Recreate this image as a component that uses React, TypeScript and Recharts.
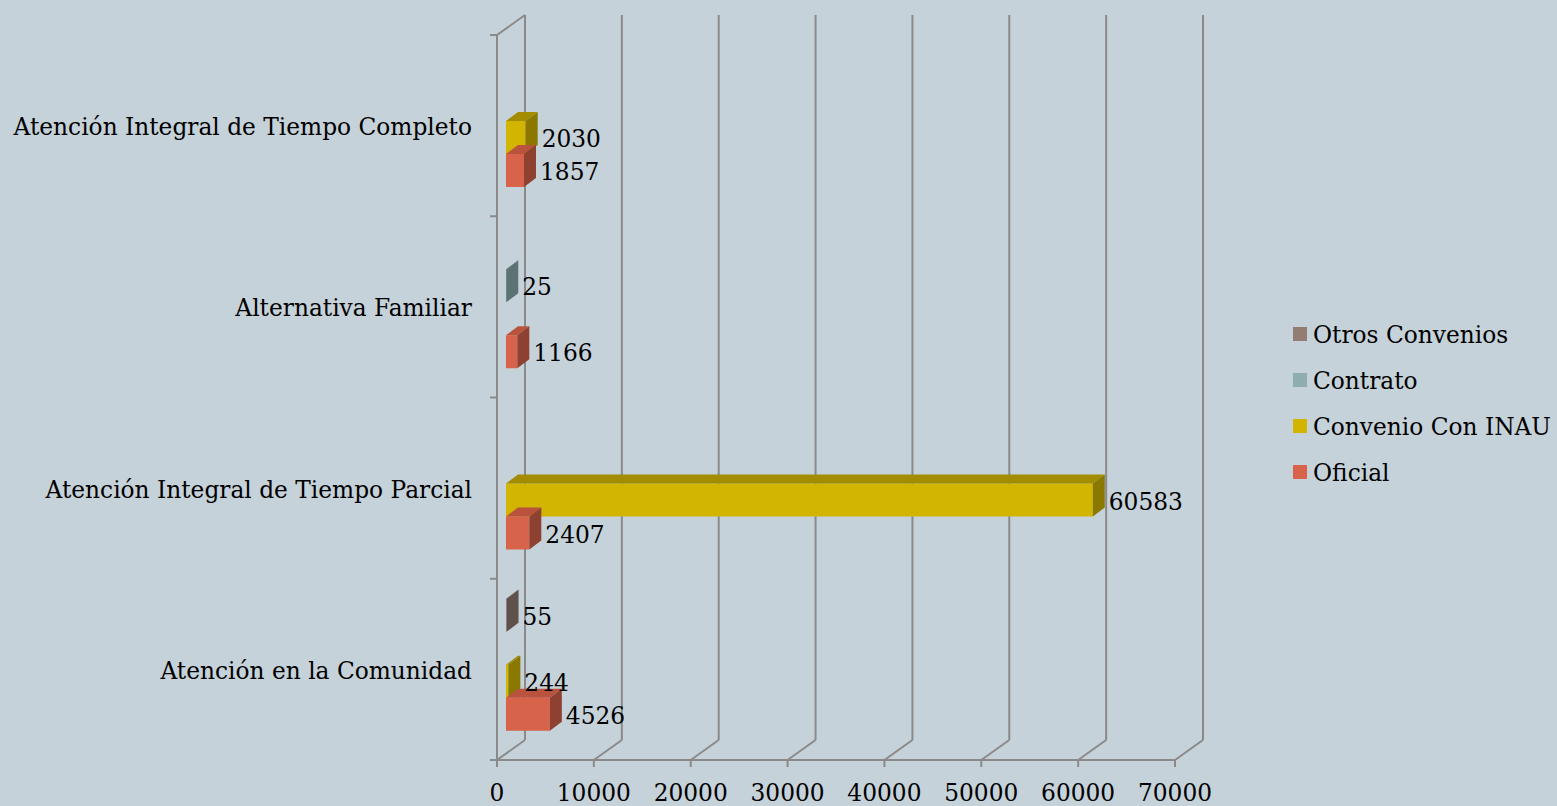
import { BarChart, Bar, XAxis, YAxis, CartesianGrid, LabelList } from 'recharts';

// categories top to bottom, as on the picture
const CATEGORIES = [
  'Atención Integral de Tiempo Completo',
  'Alternativa Familiar',
  'Atención Integral de Tiempo Parcial',
  'Atención en la Comunidad',
];
const OFICIAL = [1857, 1166, 2407, 4526];
const CONVENIO_INAU = [2030, 0, 60583, 244];
const CONTRATO = [0, 25, 0, 0];
const OTROS_CONVENIOS = [0, 0, 0, 55];
const X_TICKS = [0, 10000, 20000, 30000, 40000, 50000, 60000, 70000];

// bar order = top to bottom inside each category (and legend order)
const SERIES = [
  { key: 'otros', name: 'Otros Convenios', values: OTROS_CONVENIOS, front: '#937c71', top: '#786559', side: '#5f524c' },
  { key: 'contrato', name: 'Contrato', values: CONTRATO, front: '#8fadad', top: '#738f8f', side: '#5d7373' },
  { key: 'convenio', name: 'Convenio Con INAU', values: CONVENIO_INAU, front: '#d1b500', top: '#a38c00', side: '#8a7800' },
  { key: 'oficial', name: 'Oficial', values: OFICIAL, front: '#d7634a', top: '#b9533e', side: '#8e4031' },
];

const data = CATEGORIES.map((name, i) => {
  const row: Record<string, string | number> = { name };
  SERIES.forEach((s) => {
    row[s.key] = s.values[i];
  });
  return row;
});

const BG = '#c6d2d9';
const GRID = '#8a8a8a';
const FONT = '"DejaVu Serif", serif';
const FONT_SIZE = 23.3;
const PLOT_TOP = 35;
const PLOT_HEIGHT = 725;
const DEPTH_X = 28; // wall depth
const DEPTH_Y = 20;
const BAR_DX = 9; // bars sit a bit inside the box
const BAR_DY = -5;
const BAR_DEPTH_X = 12;
const BAR_DEPTH_Y = 9;

// back wall lines + floor slants
const renderGridLine = (props: any) => {
  const { x1, y1, y2, index } = props;
  return (
    <g key={`grid-${index}-${x1}`}>
      <line x1={x1} y1={y2} x2={x1 + DEPTH_X} y2={y2 - DEPTH_Y} stroke={GRID} strokeWidth={2} />
      <line x1={x1 + DEPTH_X} y1={y2 - DEPTH_Y} x2={x1 + DEPTH_X} y2={y1 - DEPTH_Y} stroke={GRID} strokeWidth={2} />
      {index === 0 && (
        <line x1={x1} y1={y1} x2={x1 + DEPTH_X} y2={y1 - DEPTH_Y} stroke={GRID} strokeWidth={2} />
      )}
    </g>
  );
};

const renderXTick = (props: any) => {
  const { x, y, payload } = props;
  return (
    <text x={x} y={y + 25} textAnchor="middle" dominantBaseline="central" fontFamily={FONT} fontSize={FONT_SIZE} fill="#000">
      {payload.value}
    </text>
  );
};

const renderYTick = (props: any) => {
  const { x, y, payload, index } = props;
  const band = PLOT_HEIGHT / CATEGORIES.length;
  return (
    <g>
      <line x1={x - 7} y1={y - band / 2} x2={x} y2={y - band / 2} stroke={GRID} strokeWidth={2} />
      {index === CATEGORIES.length - 1 && (
        <line x1={x - 7} y1={y + band / 2} x2={x} y2={y + band / 2} stroke={GRID} strokeWidth={2} />
      )}
      <text x={x - 25} y={y + 1} textAnchor="end" dominantBaseline="central" fontFamily={FONT} fontSize={FONT_SIZE} fill="#000">
        {payload.value}
      </text>
    </g>
  );
};

const make3DBar = (s: (typeof SERIES)[number]) => (props: any) => {
  const { x, y, width, height, payload } = props;
  if (!payload || !payload[s.key]) return <g />;
  const fx = x + BAR_DX;
  const fy = y + BAR_DY;
  const w = Math.max(width, 0);
  const top = `${fx},${fy} ${fx + w},${fy} ${fx + w + BAR_DEPTH_X},${fy - BAR_DEPTH_Y} ${fx + BAR_DEPTH_X},${fy - BAR_DEPTH_Y}`;
  const side = `${fx + w},${fy} ${fx + w + BAR_DEPTH_X},${fy - BAR_DEPTH_Y} ${fx + w + BAR_DEPTH_X},${fy - BAR_DEPTH_Y + height} ${fx + w},${fy + height}`;
  return (
    <g>
      <rect x={fx} y={fy} width={w} height={height} fill={s.front} />
      <polygon points={top} fill={s.top} />
      <polygon points={side} fill={s.side} />
    </g>
  );
};

const renderValue = (props: any) => {
  const { x, y, width, height, value } = props;
  if (!value) return null;
  return (
    <text
      x={x + BAR_DX + width + BAR_DEPTH_X + 4}
      y={y + BAR_DY + height / 2 + 1}
      dominantBaseline="central"
      fontFamily={FONT}
      fontSize={FONT_SIZE}
      fill="#000"
    >
      {value}
    </text>
  );
};

export default function App() {
  return (
    <div style={{ position: 'fixed', left: 0, top: 0, width: 1557, height: 806, background: BG }}>
      <BarChart
        width={1557}
        height={806}
        data={data}
        layout="vertical"
        margin={{ top: PLOT_TOP, right: 382, bottom: 0, left: 0 }}
        barSize={33}
        barGap={0}
      >
        <CartesianGrid horizontal={false} vertical={renderGridLine} />
        <XAxis
          type="number"
          domain={[0, 70000]}
          ticks={X_TICKS}
          interval={0}
          height={46}
          axisLine={{ stroke: GRID, strokeWidth: 2 }}
          tickLine={{ stroke: GRID, strokeWidth: 2 }}
          tickSize={7}
          tickMargin={0}
          tick={renderXTick}
        />
        <YAxis
          type="category"
          dataKey="name"
          width={497}
          axisLine={{ stroke: GRID, strokeWidth: 2 }}
          tickLine={false}
          tickSize={0}
          tickMargin={0}
          interval={0}
          tick={renderYTick}
        />
        {SERIES.map((s) => (
          <Bar key={s.key} dataKey={s.key} name={s.name} fill={s.front} barSize={33} shape={make3DBar(s)} isAnimationActive={false}>
            <LabelList dataKey={s.key} content={renderValue} />
          </Bar>
        ))}
      </BarChart>

      {/* legend */}
      <div style={{ position: 'absolute', left: 1293, top: 311, fontFamily: FONT, fontSize: FONT_SIZE, color: '#000' }}>
        {SERIES.map((s) => (
          <div key={s.key} style={{ height: 46, display: 'flex', alignItems: 'center', whiteSpace: 'nowrap' }}>
            <span style={{ width: 14, height: 14, background: s.front, marginRight: 6, display: 'inline-block', flexShrink: 0 }} />
            {s.name}
          </div>
        ))}
      </div>
    </div>
  );
}
